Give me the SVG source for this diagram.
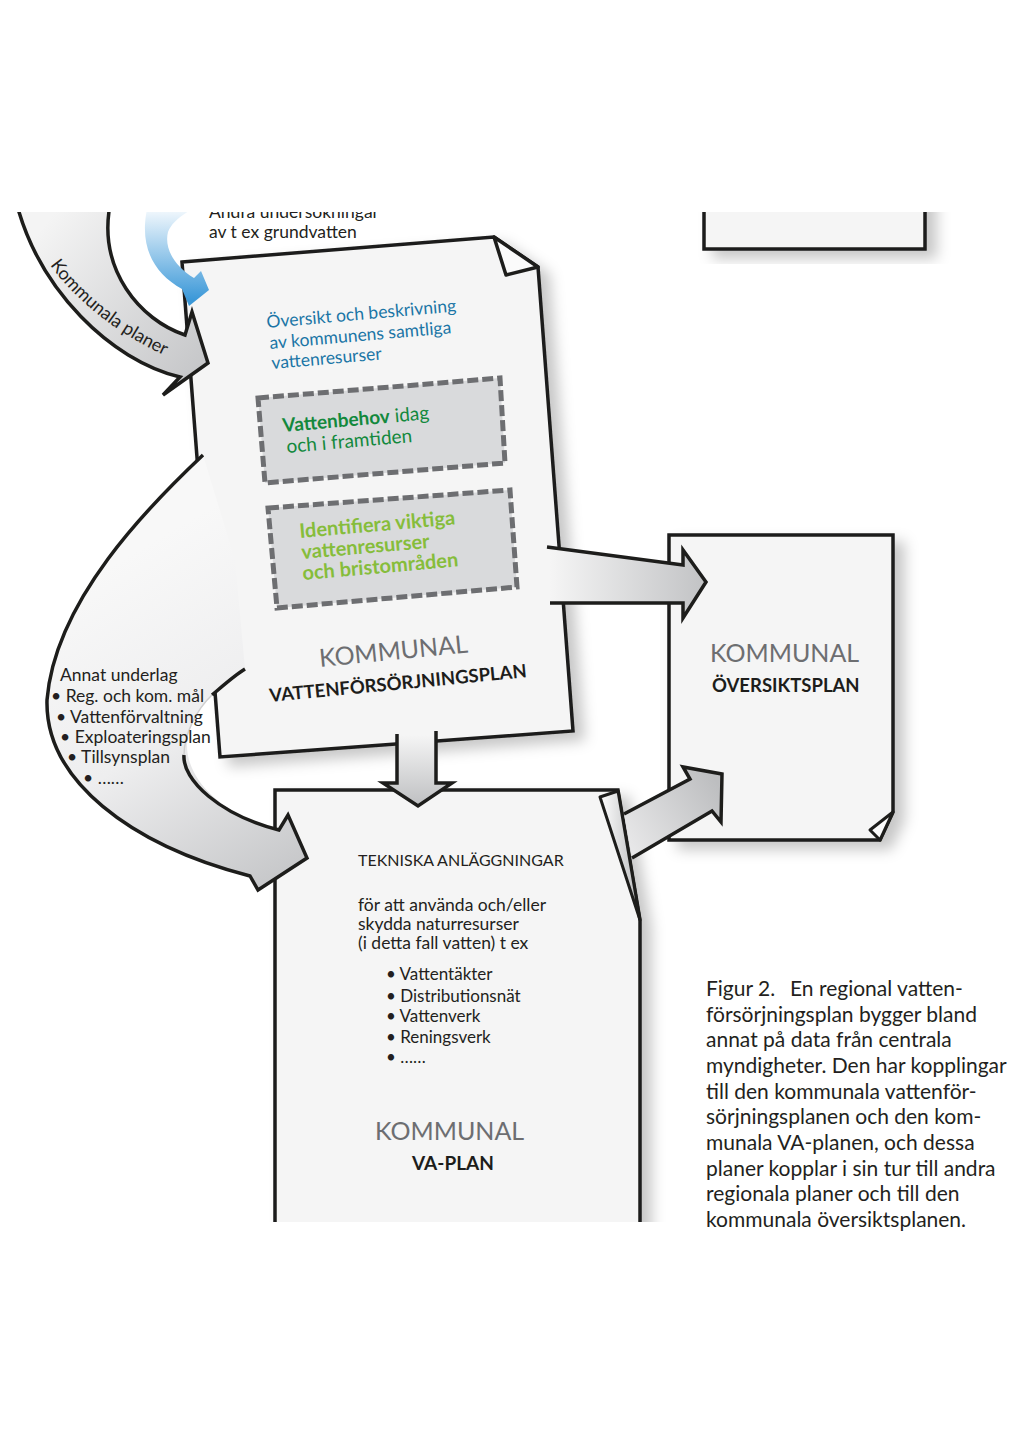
<svg xmlns="http://www.w3.org/2000/svg" width="1024" height="1449" viewBox="0 0 1024 1449">
<defs>
<style>
.doc{fill:#f5f5f5;stroke:#1d1d1b;stroke-width:3.5;stroke-linejoin:miter}
.ln{fill:none;stroke:#1d1d1b;stroke-width:3.5;stroke-linejoin:miter;stroke-linecap:butt}
.t{font-family:Lato,'Open Sans','Liberation Sans',sans-serif;fill:#231f20}
.dash{fill:#d9dadc;stroke:#6d6e71;stroke-width:5;stroke-dasharray:11 4}
.kom{font-size:25px;fill:#6d6e71}
.sub{font-size:18.5px;font-weight:bold;fill:#1d1d1b}
.blue{font-size:17.5px;fill:#1b75a6}
.dg{font-size:19px;fill:#13893d}
.lg{font-size:20px;font-weight:bold;fill:#86bd3b}
.lst{font-size:17.5px}
.caps{font-size:16px}
.bul{font-size:17px}
.cap{font-size:21px}
</style>
<clipPath id="clipD"><rect x="0" y="212" width="1024" height="1010"/></clipPath>
<filter id="sh" x="-15%" y="-15%" width="140%" height="140%">
<feDropShadow dx="10" dy="8" stdDeviation="7" flood-color="#000" flood-opacity="0.22"/>
</filter>
<linearGradient id="gRight" gradientUnits="userSpaceOnUse" x1="550" y1="0" x2="705" y2="0">
<stop offset="0" stop-color="#f5f5f5"/><stop offset="1" stop-color="#c2c3c5"/>
</linearGradient>
<linearGradient id="gDown" gradientUnits="userSpaceOnUse" x1="0" y1="735" x2="0" y2="805">
<stop offset="0" stop-color="#f5f5f5"/><stop offset="1" stop-color="#bfc0c2"/>
</linearGradient>
<linearGradient id="gVA" gradientUnits="userSpaceOnUse" x1="630" y1="850" x2="722" y2="790">
<stop offset="0" stop-color="#e8e8e9"/><stop offset="1" stop-color="#bdbec0"/>
</linearGradient>
<linearGradient id="gBig" gradientUnits="userSpaceOnUse" x1="120" y1="560" x2="300" y2="870">
<stop offset="0" stop-color="#f8f8f8"/><stop offset="0.5" stop-color="#eeeeef"/><stop offset="1" stop-color="#c6c7c9"/>
</linearGradient>
<linearGradient id="gKom" gradientUnits="userSpaceOnUse" x1="40" y1="230" x2="200" y2="370">
<stop offset="0" stop-color="#f4f4f4"/><stop offset="1" stop-color="#c6c7c9"/>
</linearGradient>
<linearGradient id="gBlue" gradientUnits="userSpaceOnUse" x1="0" y1="212" x2="0" y2="300">
<stop offset="0" stop-color="#eef6fc"/><stop offset="1" stop-color="#3b98d8"/>
</linearGradient>
<linearGradient id="gFlap" gradientUnits="userSpaceOnUse" x1="600" y1="0" x2="640" y2="0">
<stop offset="0" stop-color="#ffffff"/><stop offset="1" stop-color="#b9babc"/>
</linearGradient>
</defs>
<rect width="1024" height="1449" fill="#ffffff"/>
<g clip-path="url(#clipD)">
  <g id="top-box">
    <path class="doc" filter="url(#sh)" d="M704,190 L704,249 L925,249 L925,190"/>
  </g>
  <g id="oversiktsplan">
    <path class="doc" filter="url(#sh)" d="M669,535 L893,535 L893,812 L880,840 L669,840 Z"/>
    <path d="M893,812 L870,830 L880,840 Z" fill="#fbfbfb" stroke="#1d1d1b" stroke-width="3" stroke-linejoin="round"/>
    <text class="t kom" x="710" y="662">KOMMUNAL</text>
    <text class="t sub" x="712" y="692">ÖVERSIKTSPLAN</text>
  </g>
  <g id="va-plan">
    <path class="doc" filter="url(#sh)" d="M275,1240 L275,790 L618,790 L640,920 L640,1240"/>
    <path d="M600,797 L618,791 L640,920 Z" fill="url(#gFlap)" stroke="#1d1d1b" stroke-width="3" stroke-linejoin="round"/>
    <text class="t caps" x="358" y="866">TEKNISKA ANLÄGGNINGAR</text>
    <text class="t lst" x="358" y="911">för att använda och/eller</text>
    <text class="t lst" x="358" y="930">skydda naturresurser</text>
    <text class="t lst" x="358" y="949">(i detta fall vatten) t ex</text>
    <text class="t bul" x="386" y="980">• Vattentäkter</text>
    <text class="t bul" x="386" y="1002">• Distributionsnät</text>
    <text class="t bul" x="386" y="1022">• Vattenverk</text>
    <text class="t bul" x="386" y="1043">• Reningsverk</text>
    <text class="t bul" x="386" y="1063">• ……</text>
    <text class="t kom" x="375" y="1140">KOMMUNAL</text>
    <text class="t sub" x="412" y="1170" style="font-size:19px">VA-PLAN</text>
  </g>
  <g id="vattenforsorjningsplan">
    <path class="doc" filter="url(#sh)" d="M182,262 L494,237 L538,267 L573,731 L220,757 Z"/>
    <path d="M494,237 L506,275 L538,267 Z" fill="#fbfbfb" stroke="#1d1d1b" stroke-width="3.5" stroke-linejoin="round"/>
    <text class="t blue" x="267" y="328" transform="rotate(-5 267 328)">Översikt och beskrivning</text>
    <text class="t blue" x="270" y="349" transform="rotate(-5 270 349)">av kommunens samtliga</text>
    <text class="t blue" x="272" y="369" transform="rotate(-5 272 369)">vattenresurser</text>
    <path class="dash" d="M258,398 L500,378 L505,463 L265,483 Z"/>
    <text class="t dg" x="283" y="432" transform="rotate(-5 283 432)"><tspan font-weight="bold">Vattenbehov</tspan> idag</text>
    <text class="t dg" x="287" y="453" transform="rotate(-5 287 453)">och i framtiden</text>
    <path class="dash" d="M268,508 L510,490 L517,587 L277,608 Z"/>
    <text class="t lg" x="300" y="538" transform="rotate(-5 300 538)">Identifiera viktiga</text>
    <text class="t lg" x="302" y="559" transform="rotate(-5 302 559)">vattenresurser</text>
    <text class="t lg" x="303" y="580" transform="rotate(-5 303 580)">och bristområden</text>
    <text class="t kom" x="320" y="667" transform="rotate(-5.6 320 667)">KOMMUNAL</text>
    <text class="t sub" x="270" y="702" transform="rotate(-5.5 270 702)">VATTENFÖRSÖRJNINGSPLAN</text>
  </g>
  <g id="connectors">
    <g id="arrow-to-oversiktsplan">
      <path d="M547,547 L683,565 L683,550 L706,582 L683,618 L683,603 L550,603 Z" fill="url(#gRight)"/>
      <path class="ln" d="M547,547 L683,565 L683,550 L706,582 L683,618 L683,603 L550,603"/>
    </g>
    <g id="arrow-down">
      <path d="M397,731 L436,729 L436,783 L452,783 L418,806 L383,783 L397,783 Z" fill="url(#gDown)"/>
      <path class="ln" d="M397,734 L397,783 L383,783 L418,806 L452,783 L436,783 L436,731"/>
    </g>
    <g id="arrow-va-to-oversikt">
      <path d="M624,814 L690,779 L683,767 L722,774 L721,822 L712,811 L632,858 Z" fill="url(#gVA)"/>
      <path class="ln" d="M624,814 L690,779 L683,767 L722,774 L721,822 L712,811 L632,858"/>
    </g>
    <g id="arrow-annat-underlag">
      <path d="M203,455 C150,505 55,600 47,700 C45,780 130,845 250,876 L258,890 L307,858 L288,815 L279,830 C220,815 180,775 188,735 C195,705 225,680 245,669 L235,560 Z" fill="url(#gBig)"/>
      <path class="ln" d="M203,455 C150,505 55,600 47,700 C45,780 130,845 250,876 L258,890 L307,858 L288,815 L279,830 C220,815 182,780 184,755"/>
      <path class="ln" d="M212,695 C225,684 235,675 245,669"/>
      <path d="M184,755 C184,735 196,710 212,695" fill="none" stroke="#d0d0d0" stroke-width="1.5"/>
    </g>
    <g id="arrow-kommunala-planer">
      <path d="M17,200 L17,212 C40,290 110,360 180,377 L163,395 L208,363 L192,312 L185,335 C140,320 98,270 108,212 L108,200 Z" fill="url(#gKom)"/>
      <path class="ln" d="M17,205 C40,290 110,360 180,377 L163,395 L208,363 L192,312 L185,335 C140,320 98,270 110,205"/>
      <path id="kpPath" d="M50,265 Q92,322 168,357" fill="none"/>
      <text class="t" style="font-size:18px"><textPath href="#kpPath">Kommunala planer</textPath></text>
    </g>
    <g id="arrow-andra">
      <path d="M148,205 C138,245 153,273 182,289 L189,306 L209,290 L201,271 L194,278 C174,266 164,248 168,232 C172,222 182,214 200,205 Z" fill="url(#gBlue)"/>
    </g>
  </g>
  <g id="labels">
    <text class="t" style="font-size:17.5px" x="209" y="218">Andra undersökningar</text>
    <text class="t" style="font-size:17.5px" x="209" y="238">av t ex grundvatten</text>
    <text class="t lst" x="60" y="681">Annat underlag</text>
    <text class="t lst" x="51" y="702">• Reg. och kom. mål</text>
    <text class="t lst" x="56" y="723">• Vattenförvaltning</text>
    <text class="t lst" x="60" y="743">• Exploateringsplan</text>
    <text class="t lst" x="67" y="763">• Tillsynsplan</text>
    <text class="t lst" x="83" y="784">• ……</text>
  </g>
</g>
<g id="caption">
  <text class="t cap" x="706" y="996">Figur 2.<tspan x="790">En regional vatten-</tspan></text>
  <text class="t cap" x="706" y="1022">försörjningsplan bygger bland</text>
  <text class="t cap" x="706" y="1047">annat på data från centrala</text>
  <text class="t cap" x="706" y="1073">myndigheter. Den har kopplingar</text>
  <text class="t cap" x="706" y="1099">till den kommunala vattenför-</text>
  <text class="t cap" x="706" y="1124">sörjningsplanen och den kom-</text>
  <text class="t cap" x="706" y="1150">munala VA-planen, och dessa</text>
  <text class="t cap" x="706" y="1176">planer kopplar i sin tur till andra</text>
  <text class="t cap" x="706" y="1201">regionala planer och till den</text>
  <text class="t cap" x="706" y="1227">kommunala översiktsplanen.</text>
</g>
</svg>
